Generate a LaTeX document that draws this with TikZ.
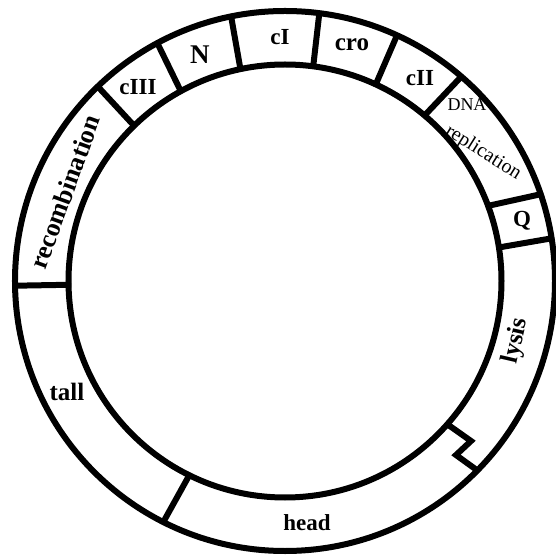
\documentclass[tikz,border=0pt]{standalone}
\usepackage{fontspec}
\setmainfont{Liberation Serif}
\begin{document}
\begin{tikzpicture}[x=1pt, y=1pt,
    ring/.style={line width=6pt, line join=miter},
    gene/.style={inner sep=0pt, font=\bfseries\fontsize{23}{25}\selectfont},
    plain/.style={inner sep=0pt, font=\fontsize{18}{20}\selectfont}]
\useasboundingbox (-285,-275) rectangle (270,281);
% the two circles of the ring
\draw[ring] (0,0) circle (270);
\draw[ring] (0,0) circle (216.5);
% dividers between the genes
\draw[ring] (181:214) -- (181:272);
\draw[ring] (134.2:214) -- (133.9:272);
\draw[ring] (118.8:214) -- (118.2:272);
\draw[ring] (101.9:214) -- (101.5:272);
\draw[ring] (82.5:214) -- (82.7:272);
\draw[ring] (65.2:214) -- (65.5:272);
\draw[ring] (49.9:214) -- (49.2:272);
\draw[ring] (20.4:214) -- (18.7:272);
\draw[ring] (8.9:214) -- (9.1:272);
\draw[ring] (243.8:214) -- (243.2:272);
\draw[ring] (-41.5:214) -- (186,-160) -- (171,-174) -- (-44.5:272);
% gene names
\node[gene] (cI) at (-5,244) {cI};
\node[gene, font=\bfseries\fontsize{25}{27}\selectfont] (cro) at (67,236) {cro};
\node[gene, font=\bfseries\fontsize{27}{29}\selectfont] (N) at (-85,226) {N};
\node[gene] (cIII) at (-147,194) {cIII};
\node[gene] (cII) at (135,203) {cII};
\node[plain] (dna) at (182,176) {DNA};
\node[plain, font=\fontsize{20}{22}\selectfont, rotate=-32] (repl) at (198,128) {replication};
\node[gene] (Q) at (237,60) {Q};
\node[gene, font=\bfseries\fontsize{25}{27}\selectfont, rotate=77] (lysis) at (231,-60) {lysis};
\node[gene] (head) at (22,-242) {head};
\node[gene, font=\bfseries\fontsize{25}{27}\selectfont] (tall) at (-218,-111) {tall};
\node[gene, font=\bfseries\fontsize{26}{28}\selectfont, rotate=70] (recomb) at (-220,89) {recombination};
\end{tikzpicture}
\end{document}
